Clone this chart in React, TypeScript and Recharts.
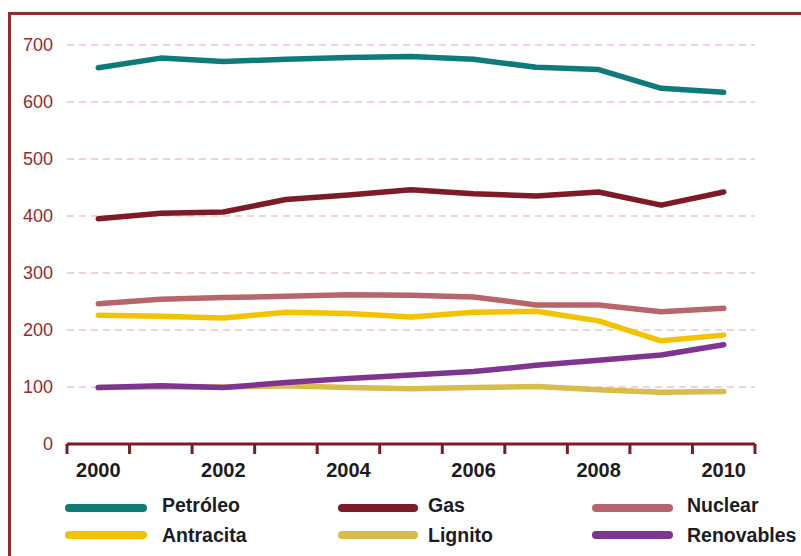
import { LineChart, Line, XAxis, YAxis, CartesianGrid } from 'recharts';

// Consumo de energía primaria por fuente, 2000-2010
const years = [2000, 2001, 2002, 2003, 2004, 2005, 2006, 2007, 2008, 2009, 2010];
const petroleo = [660, 677, 671, 675, 678, 680, 675, 661, 657, 624, 617];
const gas = [395, 405, 407, 429, 437, 446, 439, 435, 442, 419, 442];
const nuclear = [246, 254, 257, 259, 262, 261, 258, 244, 244, 232, 238];
const antracita = [226, 224, 221, 231, 229, 223, 231, 233, 216, 181, 191];
const lignito = [99, 100, 100, 102, 99, 97, 99, 101, 95, 91, 92];
const renovables = [99, 102, 99, 108, 115, 121, 127, 138, 147, 156, 174];

const yTicks = [0, 100, 200, 300, 400, 500, 600, 700];
const yearLabels = [2000, 2002, 2004, 2006, 2008, 2010];

const data = years.map((year, i) => ({
  year,
  petroleo: petroleo[i],
  gas: gas[i],
  nuclear: nuclear[i],
  antracita: antracita[i],
  lignito: lignito[i],
  renovables: renovables[i],
}));

// tick marks sit between years, labels on every other year
const bandEdges = [...years.map((y) => y - 0.5), years[years.length - 1] + 0.5];
const xTicks = [...bandEdges, ...yearLabels].sort((a, b) => a - b);

const AXIS_RED = '#7b1c22';
const FONT = "'Liberation Sans', Arial, sans-serif";

const series = [
  { key: 'petroleo', name: 'Petróleo', color: '#0f7b79' },
  { key: 'gas', name: 'Gas', color: '#7d1b29' },
  { key: 'nuclear', name: 'Nuclear', color: '#b8666d' },
  { key: 'lignito', name: 'Lignito', color: '#d8bc4c' },
  { key: 'antracita', name: 'Antracita', color: '#f3c200' },
  { key: 'renovables', name: 'Renovables', color: '#7e3590' },
];

const legendRows = [
  ['petroleo', 'gas', 'nuclear'],
  ['antracita', 'lignito', 'renovables'],
];
const legendCols = [
  { x1: 65, x2: 147, tx: 162 },
  { x1: 338, x2: 418, tx: 428 },
  { x1: 592, x2: 673, tx: 687 },
];
const legendRowY = [508, 535];
const legendTextY = [512, 542];

function YearTick(props: any) {
  const { x, y, payload } = props;
  const v = payload.value;
  if (!Number.isInteger(v)) {
    return <line x1={x} x2={x} y1={y} y2={y + 10} stroke={AXIS_RED} strokeWidth={3} />;
  }
  return (
    <text x={x} y={y + 33} textAnchor="middle" fontFamily={FONT} fontWeight="bold" fontSize={20} fill="#1c1c1c">
      {v}
    </text>
  );
}

export default function App() {
  return (
    <div style={{ position: 'fixed', left: 0, top: 0, width: 801, height: 556, overflow: 'hidden', background: '#fff' }}>
      <div
        style={{
          position: 'absolute',
          left: 8,
          top: 12,
          width: 793,
          height: 544,
          boxSizing: 'border-box',
          borderLeft: '3px solid #8e2f2f',
          borderTop: '3px solid #8e2f2f',
        }}
      />
      <div style={{ position: 'absolute', left: 0, top: 0 }}>
        <LineChart width={801} height={556} data={data} margin={{ top: 45, right: 46, left: 0, bottom: 72 }}>
          <CartesianGrid vertical={false} stroke="#efc3c8" strokeWidth={1.5} strokeDasharray="7 5" />
          <XAxis
            dataKey="year"
            type="number"
            domain={[1999.5, 2010.5]}
            ticks={xTicks}
            interval={0}
            height={40}
            tickSize={0}
            tickMargin={0}
            tickLine={false}
            axisLine={{ stroke: AXIS_RED, strokeWidth: 3 }}
            tick={<YearTick />}
          />
          <YAxis
            domain={[0, 700]}
            ticks={yTicks}
            width={67}
            tickSize={0}
            tickMargin={14}
            axisLine={false}
            tickLine={false}
            tick={{ fill: '#982a2c', fontSize: 18, fontFamily: FONT }}
          />
          {series.map((s) => (
            <Line
              key={s.key}
              type="linear"
              dataKey={s.key}
              name={s.name}
              stroke={s.color}
              strokeWidth={5.5}
              strokeLinecap="round"
              strokeLinejoin="round"
              dot={false}
              isAnimationActive={false}
            />
          ))}
        </LineChart>
      </div>
      <svg width={801} height={556} style={{ position: 'absolute', left: 0, top: 0, pointerEvents: 'none' }}>
        {legendRows.map((row, r) =>
          row.map((key, c) => {
            const s = series.find((it) => it.key === key)!;
            const col = legendCols[c];
            return (
              <g key={key}>
                <line
                  x1={col.x1 + 4}
                  x2={col.x2 - 4}
                  y1={legendRowY[r]}
                  y2={legendRowY[r]}
                  stroke={s.color}
                  strokeWidth={8}
                  strokeLinecap="round"
                />
                <text x={col.tx} y={legendTextY[r]} fontFamily={FONT} fontWeight="bold" fontSize={19.5} fill="#1c1c24">
                  {s.name}
                </text>
              </g>
            );
          })
        )}
      </svg>
    </div>
  );
}
